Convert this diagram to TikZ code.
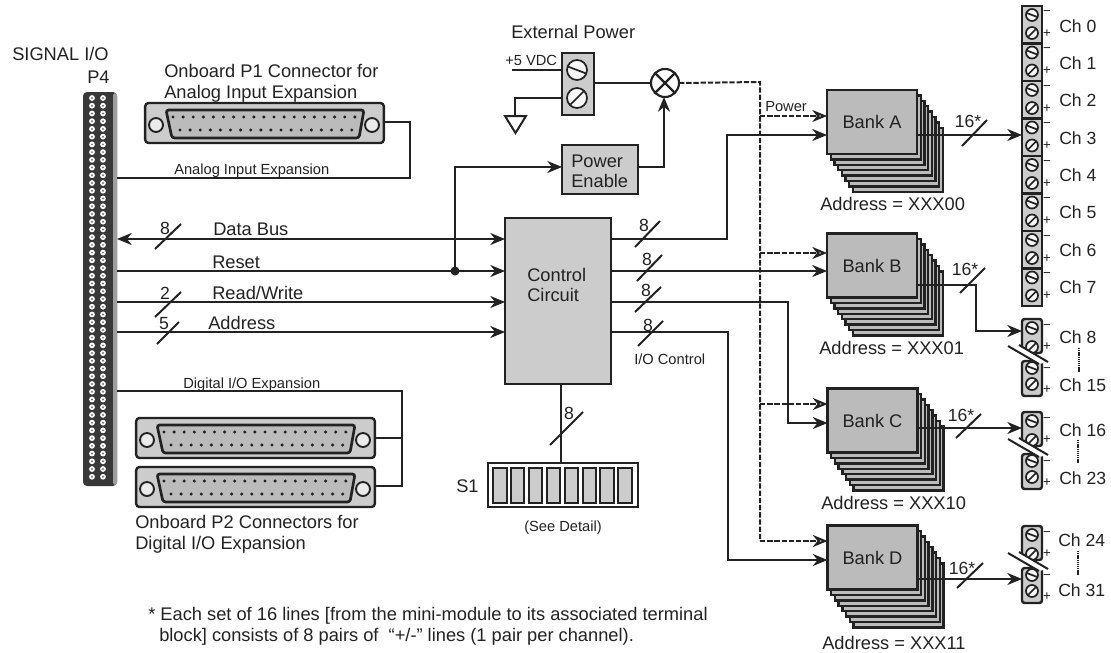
\documentclass[tikz,border=0pt]{standalone}
\usepackage{fontspec}
\setmainfont{Liberation Sans}
\usetikzlibrary{arrows.meta,calc}
\definecolor{ink}{HTML}{222222}
\definecolor{lg}{HTML}{CCCCCC}
\definecolor{mg}{HTML}{BBBBBB}
\tikzset{
 wire/.style={draw=ink,line width=1.6pt},
 arr/.style={wire,-{Stealth[length=11pt,width=9pt,inset=3.5pt]}},
 dwire/.style={draw=ink,line width=1.5pt,dash pattern=on 4pt off 1.4pt},
 darr/.style={dwire,-{Stealth[length=11pt,width=9pt,inset=3.5pt,open,fill=lg]}},
 thinw/.style={draw=ink,line width=1.3pt},
 tick/.style={draw=ink,line width=1.5pt},
 txt/.style={anchor=west,inner sep=0pt,text height=9.8pt,text depth=0pt,text=ink,font=\fontsize{13.7pt}{16pt}\selectfont},
 small/.style={txt,text height=7.9pt,font=\fontsize{11pt}{13pt}\selectfont},
 chl/.style={txt,text height=9.5pt,font=\fontsize{13.2pt}{16pt}\selectfont},
 pm/.style={anchor=center,inner sep=0pt,text=ink,font=\fontsize{10pt}{10pt}\selectfont},
 gbox/.style={draw=ink,line width=1.8pt,fill=lg,inner sep=0pt,outer sep=0pt},
 bankbox/.style={draw=ink,line width=1.8pt,fill=mg,inner sep=0pt,outer sep=0pt,minimum width=67.5pt,minimum height=48pt,text=ink,font=\fontsize{13.7pt}{16pt}\selectfont},
 tblock/.style={gbox,minimum width=15pt,minimum height=28.1pt},
}
\newcommand{\myscrew}[3]{%
 \draw[line width=1.3pt,draw=ink,fill=white!85!lg] (#1,#2) circle[radius=#3];}
\newcommand{\screwh}[3]{\myscrew{#1}{#2}{#3}
 \draw[line width=1.3pt,draw=ink] ({#1-.92*#3},{#2-.35*#3}) -- ({#1+.92*#3},{#2+.35*#3});}
\newcommand{\screws}[3]{\myscrew{#1}{#2}{#3}
 \draw[line width=1.3pt,draw=ink] ({#1-.7*#3},{#2+.7*#3}) -- ({#1+.7*#3},{#2-.7*#3});}
\newcommand{\busmark}[8]{% x1 y1 x2 y2 text tx ty name
 \draw[tick] (#1,#2) -- (#3,#4);
 \node[chl,anchor=center] (#8) at (#6,#7) {#5};}
\newcommand{\bankstack}[3]{% letter, center x, center y
 \foreach \k in {7,...,1}{
  \draw[draw=ink,line width=1.8pt,fill=mg]
   ({#2-45+\k*3.7},{#3-32+\k*5.4}) rectangle ({#2+45+\k*3.7},{#3+32+\k*5.4});}
 \node[bankbox] (bank#1) at (#2,#3) {Bank #1};}
\newcommand{\dsub}[3]{% name, ox, oy
 \node[gbox,rounded corners=2.5pt,minimum width=179pt,minimum height=30pt] (#1) at ({#2+119.5},{#3+20}) {};
 \draw[line width=1.4pt,draw=ink,fill=white!60!lg] ({#2+11},{#3+22}) circle[radius=7];
 \draw[line width=1.4pt,draw=ink,fill=white!60!lg] ({#2+227},{#3+22}) circle[radius=7];
 \draw[line width=2pt,draw=ink,fill=mg,rounded corners=2pt]
  ({#2+21},{#3+7}) -- ({#2+219},{#3+7}) -- ({#2+214},{#3+35}) -- ({#2+27},{#3+35}) -- cycle;
 \foreach \k in {0,...,18}{\fill[ink] ({#2+28+\k*10.1},{#3+14}) circle[radius=1.7];}
 \foreach \k in {0,...,17}{\fill[ink] ({#2+35+\k*10.1},{#3+27}) circle[radius=1.7];}
}
\newcommand{\broken}[1]{% y offset
 \draw[gbox,rounded corners=2pt] (1022,{319+#1}) -- (1042,{319+#1}) -- (1042,{353+#1}) -- (1022,{353+#1}) -- cycle;
 \draw[gbox,rounded corners=2pt] (1022,{361+#1}) -- (1042,{361+#1}) -- (1042,{396+#1}) -- (1022,{396+#1}) -- cycle;
 \screwh{1032}{328+#1}{6}
 \screws{1032}{347+#1}{6}
 \screwh{1032}{368+#1}{6}
 \screws{1032}{384+#1}{6}
 \fill[white] (1008,{346+#1}) -- (1039,{364+#1}) -- (1048,{362+#1}) -- (1019,{345+#1}) -- cycle;
 \draw[tick] (1008,{346+#1}) -- (1039,{364+#1});
 \draw[tick] (1019,{345+#1}) -- (1048,{362+#1});
 \node[pm] at (1047,{327+#1}) {−};
 \node[pm] at (1047,{347+#1}) {+};
 \node[pm] at (1047,{370+#1}) {−};
 \node[pm] at (1047,{390+#1}) {+};
}
\begin{document}
\begin{tikzpicture}[x=.75pt,y=-.75pt]
\useasboundingbox (0,0) rectangle (1111,653);
\fill[white] (0,0) rectangle (1111,653);
% header
\node[inner sep=0pt,outer sep=0pt,fill=ink!90,rounded corners=3pt,minimum width=25.5pt,minimum height=295.5pt] (p4) at (100,289) {};
\fill[black!38,rounded corners=2pt] (113,93) rectangle (117,485);
\foreach \r in {0,...,49}{
 \fill[white] (92,{98+\r*7.73}) circle[radius=2.9];
 \fill[white] (103,{98+\r*7.73}) circle[radius=2.9];
 \fill[black!55] (92,{98+\r*7.73}) circle[radius=1.1];
 \fill[black!55] (103,{98+\r*7.73}) circle[radius=1.1];
}
\node[txt] (sigio) at (12,54) {SIGNAL I/O};
\node[txt] (p4t) at (87,77) {P4};
% connectors
\dsub{p1}{145}{103}
\dsub{ptwoa}{136}{418}
\dsub{ptwob}{136}{467}
\node[txt] (p1a) at (164,71) {Onboard P1 Connector for};
\node[txt] (p1b) at (164,92) {Analog Input Expansion};
\node[txt] (p2a) at (135,522) {Onboard P2 Connectors for};
\node[txt] (p2b) at (135,543) {Digital I/O Expansion};
\node[small] (aie) at (174,169) {Analog Input Expansion};
\node[small] (die) at (183,383) {Digital I/O Expansion};
\draw[thinw] (p1.east |- 0,122) -- (410,122) -- (410,178) -- (p4.east |- 0,178);
\draw[thinw] (p4.east |- 0,391) -- (402,391) -- (402,486) -- (ptwob.east |- 0,486);
\draw[thinw] (ptwoa.east |- 0,438) -- (402,438);
% boxes
\node[gbox,minimum width=79.5pt,minimum height=124.5pt,inner sep=0pt] (ctrl) at (558,301) {};
\node[txt] (ctrla) at (527,275) {Control};
\node[txt] (ctrlb) at (527,295) {Circuit};
\node[gbox,minimum width=57pt,minimum height=36.75pt] (pe) at (600,169.5) {};
\node[txt] (pea) at (571,161) {Power};
\node[txt] (peb) at (571,181) {Enable};
\node[gbox,minimum width=24pt,minimum height=46.5pt] (ext) at (578,84) {};
\screwh{577}{70}{10}
\screws{577}{98}{10}
\node[txt] (extp) at (511,32) {External Power};
\node[small] (vdc) at (505,60) {+5 VDC};
\coordinate (vin) at (512,70);
\coordinate (gnd) at (515,116);
\draw[wire] (vin) -- (ext.west |- vin);
\draw[wire] (ext.west |- 0,98) -- (515,98) -- (gnd);
\draw[line width=1.5pt,draw=ink] (505,116) -- (526,116) -- (515.5,133) -- cycle;
\node[draw=ink,line width=1.6pt,circle,minimum size=21pt,inner sep=0pt,outer sep=0pt,fill=white] (mix) at (665,83) {};
\draw[wire] (mix.north west) -- (mix.south east);
\draw[wire] (mix.north east) -- (mix.south west);
\draw[wire] (ext.east |- mix) -- (mix.west);
\draw[arr] (pe.east |- 0,167) -- (664,167) -- (mix.south -| 664,0);
% banks
\bankstack{A}{872}{122}
\bankstack{B}{872}{265.5}
\bankstack{C}{872.5}{420.5}
\bankstack{D}{872.5}{557.5}
\node[txt] (ada) at (820,204) {Address = XXX00};
\node[txt] (adb) at (819,348) {Address = XXX01};
\node[txt] (adc) at (821,503) {Address = XXX10};
\node[txt] (add) at (822,643) {Address = XXX11};
% power distribution
\draw[dwire] (mix.east) -- (760,82) -- (760,541);
\draw[darr] (760,116) -- (bankA.west |- 0,116);
\draw[darr] (760,253) -- (bankB.west |- 0,253);
\draw[darr] (760,404) -- (bankC.west |- 0,404);
\draw[darr] (760,541) -- (bankD.west |- 0,541);
\node[small] (pwr) at (765,106) {Power};
% buses
\draw[wire,{Stealth[length=11pt,width=9pt,inset=3.5pt]}-{Stealth[length=11pt,width=9pt,inset=3.5pt]}] (p4.east |- 0,239) -- (ctrl.west |- 0,239);
\draw[arr] (p4.east |- 0,271) -- (ctrl.west |- 0,271);
\draw[arr] (p4.east |- 0,302) -- (ctrl.west |- 0,302);
\draw[arr] (p4.east |- 0,332) -- (ctrl.west |- 0,332);
\fill[ink] (455,271) circle[radius=4.5];
\coordinate (rj) at (455,271);
\draw[arr] (rj) -- (455,167) -- (pe.west |- 0,167);
\node[txt] (dbus) at (213,229) {Data Bus};
\node[txt] (rst) at (212,262) {Reset};
\node[txt] (rw) at (212,293) {Read/Write};
\node[txt] (adr) at (208,323) {Address};
\busmark{155}{249}{181}{224}{8}{165}{228}{n1}
\busmark{155}{317}{181}{292}{2}{165}{293}{n2}
\busmark{157}{344}{179}{322}{5}{164}{323}{n3}
% control outputs
\draw[arr] (ctrl.east |- 0,239) -- (727,239) -- (727,135) -- (bankA.west |- 0,135);
\draw[arr] (ctrl.east |- 0,271) -- (bankB.west |- 0,271);
\draw[arr] (ctrl.east |- 0,302) -- (788,302) -- (788,423) -- (bankC.west |- 0,423);
\draw[arr] (ctrl.east |- 0,332) -- (728,332) -- (728,560) -- (bankD.west |- 0,560);
\busmark{635}{247}{660}{221}{8}{644}{225}{n4}
\busmark{637}{281}{662}{255}{8}{647}{259}{n5}
\busmark{635}{312}{661}{287}{8}{646}{290}{n6}
\busmark{638}{346}{663}{321}{8}{648}{325}{n7}
\node[small] (ioc) at (634,359) {I/O Control};
% S1
\node[gbox,fill=white,minimum width=112.5pt,minimum height=33pt] (s1) at (563,485) {};
\foreach \k in {0,...,7}{
 \draw[draw=ink,line width=1.5pt,fill=lg] ({493+\k*17.9},468) rectangle ({506.5+\k*17.9},503);}
\draw[wire] (ctrl.south -| 561,0) -- (s1.north -| 561,0);
\busmark{550}{445}{583}{412}{8}{569}{413}{n8}
\node[txt] (s1t) at (456,486) {S1};
\node[small,anchor=center] (see) at (563,526) {(See Detail)};
% terminals
\foreach \i in {0,...,7}{
 \node[tblock] (ch\i) at (1032,{24.75+37.5*\i}) {};
 \screwh{1032}{15+37.5*\i}{6}
 \screws{1032}{33+37.5*\i}{6}
 \node[pm] at (1047,{13+37.5*\i}) {−};
 \node[pm] at (1047,{33.5+37.5*\i}) {+};
 \node[chl] (chl\i) at (1059,{26+37.3*\i}) {Ch \i};
}
\broken{0}
\broken{93}
\broken{207}
\coordinate (ct8) at (1022,331);
\coordinate (ct16) at (1022,428);
\coordinate (ct24) at (1022,579);
\draw[arr] (bankA.east |- 0,135) -- (ch3.west |- 0,135);
\draw[arr] (bankB.east |- 0,285) -- (976,285) -- (976,331) -- (ct8);
\draw[arr] (bankC.east |- 0,428) -- (ct16);
\draw[arr] (bankD.east |- 0,579) -- (ct24);
\busmark{962}{146}{987}{120}{16*}{968}{121}{n9}
\busmark{960}{293}{985}{268}{16*}{965}{269}{n10}
\busmark{956}{438}{981}{414}{16*}{961}{415}{n11}
\busmark{957}{588}{983}{563}{16*}{962}{568}{n12}
\node[chl] (ch8t) at (1059,337) {Ch 8};
\node[chl] (ch15t) at (1059,385) {Ch 15};
\node[chl] (ch16t) at (1059,430) {Ch 16};
\node[chl] (ch23t) at (1059,478) {Ch 23};
\node[chl] (ch24t) at (1058,540) {Ch 24};
\node[chl] (ch31t) at (1058,590) {Ch 31};
\draw[draw=ink,line width=1.6pt,dash pattern=on 1pt off .6pt] (1079,348) -- (1079,372);
\draw[draw=ink,line width=1.6pt,dash pattern=on 1pt off .6pt] (1078,440) -- (1078,463);
\draw[draw=ink,line width=1.6pt,dash pattern=on 1pt off .6pt] (1078,551) -- (1078,575);
% footnote
\node[txt] (fn1) at (148,614) {* Each set of 16 lines [from the mini-module to its associated terminal};
\node[txt] (fn2) at (159,635) {block] consists of 8 pairs of\ \ “+/-” lines (1 pair per channel).};
\end{tikzpicture}
\end{document}
